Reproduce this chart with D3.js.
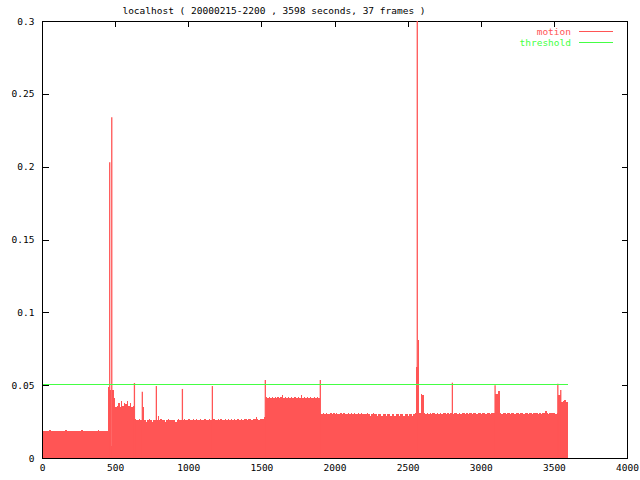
<!DOCTYPE html>
<html>
<head>
<meta charset="utf-8">
<script src="https://cdn.jsdelivr.net/npm/d3@7"></script>
<style>
  html, body { margin: 0; padding: 0; background: #fff; }
  svg { display: block; }
  text { font-family: "DejaVu Sans Mono", "Liberation Mono", monospace; font-size: 9.5px; }
</style>
</head>
<body>
<svg id="chart" width="640" height="480"></svg>
<script>
// ---- data ----
const titleText = "localhost ( 20000215-2200 , 3598 seconds, 37 frames )";
const totalSeconds = 3598;
const binSeconds = 10;
// motion level per 10-second bin, starting at t = 0
const motion = [
  0.0185,0.0188,0.0183,0.0186,0.0184,0.0189,0.0185,0.0187,0.0184,0.0186,
  0.0183,0.0185,0.0188,0.0184,0.0186,0.0185,0.0190,0.0184,0.0187,0.0185,
  0.0186,0.0184,0.0188,0.0185,0.0187,0.0183,0.0186,0.0189,0.0185,0.0186,
  0.0184,0.0187,0.0185,0.0186,0.0188,0.0184,0.0186,0.0185,0.0189,0.0186,
  0.0185,0.0187,0.0184,0.0186,0.0185,0.049,0.047,0.008,0.047,0.041,
  0.035,0.036,0.038,0.035,0.039,0.036,0.038,0.037,0.039,0.036,
  0.038,0.035,0.036,0.027,0.026,0.026,0.027,0.026,0.026,0.035,
  0.026,0.025,0.026,0.027,0.026,0.025,0.026,0.026,0.026,0.029,
  0.026,0.027,0.026,0.026,0.025,0.026,0.027,0.026,0.026,0.026,
  0.026,0.025,0.026,0.027,0.026,0.026,0.026,0.027,0.026,0.026,
  0.027,0.026,0.026,0.027,0.026,0.027,0.026,0.026,0.027,0.026,
  0.026,0.027,0.026,0.026,0.027,0.026,0.026,0.027,0.026,0.026,
  0.027,0.026,0.027,0.026,0.026,0.027,0.026,0.027,0.026,0.027,
  0.026,0.027,0.026,0.027,0.027,0.026,0.027,0.026,0.027,0.027,
  0.026,0.027,0.027,0.026,0.027,0.027,0.028,0.027,0.026,0.027,
  0.027,0.027,0.028,0.042,0.041,0.042,0.041,0.042,0.041,0.042,
  0.041,0.042,0.041,0.042,0.043,0.041,0.042,0.041,0.042,0.041,
  0.042,0.041,0.042,0.042,0.041,0.042,0.041,0.043,0.041,0.042,
  0.041,0.042,0.041,0.042,0.041,0.041,0.042,0.041,0.042,0.041,
  0.031,0.030,0.031,0.030,0.031,0.030,0.030,0.031,0.030,0.031,
  0.030,0.031,0.030,0.030,0.031,0.030,0.031,0.030,0.030,0.031,
  0.030,0.031,0.030,0.031,0.030,0.030,0.031,0.030,0.031,0.030,
  0.030,0.030,0.031,0.030,0.029,0.030,0.031,0.030,0.030,0.029,
  0.030,0.030,0.029,0.030,0.030,0.029,0.030,0.030,0.029,0.030,
  0.030,0.029,0.030,0.030,0.029,0.030,0.030,0.029,0.030,0.030,
  0.029,0.030,0.030,0.029,0.030,0.031,0.0627,0.081,0.031,0.044,
  0.043,0.031,0.030,0.031,0.030,0.031,0.030,0.031,0.031,0.030,
  0.031,0.030,0.031,0.030,0.031,0.031,0.030,0.031,0.030,0.031,
  0.031,0.030,0.031,0.031,0.030,0.031,0.030,0.031,0.031,0.030,
  0.031,0.030,0.031,0.031,0.030,0.031,0.031,0.030,0.031,0.031,
  0.030,0.031,0.031,0.030,0.031,0.031,0.030,0.031,0.031,0.031,
  0.044,0.044,0.046,0.031,0.030,0.031,0.031,0.030,0.031,0.031,
  0.030,0.031,0.031,0.030,0.031,0.031,0.030,0.031,0.031,0.030,
  0.031,0.031,0.030,0.031,0.031,0.030,0.031,0.031,0.031,0.030,
  0.031,0.030,0.031,0.031,0.032,0.031,0.030,0.031,0.031,0.031,
  0.031,0.030,0.031,0.043,0.043,0.0387,0.039,0.040,0.0387,0.0387
];
// single-second motion spikes [second, value]
const spikeSeconds = [463, 477, 632, 686, 782, 960, 1165, 1527, 1903, 2566, 2806, 3098, 3527, 3547];
const spikeValues  = [0.203, 0.234, 0.0515, 0.0455, 0.0494, 0.0474, 0.0494, 0.0535, 0.0535, 0.300, 0.0517, 0.050, 0.0509, 0.0467];
const threshold = 0.05;
const xTicks = [0, 500, 1000, 1500, 2000, 2500, 3000, 3500, 4000];
const yTicks = [0, 0.05, 0.1, 0.15, 0.2, 0.25, 0.3];
const yTickLabels = ["0", "0.05", "0.1", "0.15", "0.2", "0.25", "0.3"];
const legendLabels = ["motion", "threshold"];

// ---- chart ----
const RED = "#ff5555", GREEN = "#44ff44";
const svg = d3.select("#chart");
const x = d3.scaleLinear().domain([0, 4000]).range([42, 627]);
const y = d3.scaleLinear().domain([0, 0.3]).range([458, 21]);

// frame
svg.append("rect").attr("x", 42.5).attr("y", 21.5).attr("width", 585).attr("height", 437)
  .attr("fill", "none").attr("stroke", "#000").attr("stroke-width", 1).attr("shape-rendering", "crispEdges");

// axes with inward ticks
const fmtY = d => yTickLabels[yTicks.indexOf(d)];
const gLeft = svg.append("g").attr("transform", "translate(42.5,0)")
  .call(d3.axisLeft(y).tickValues(yTicks).tickFormat(fmtY).tickSizeInner(-6).tickSizeOuter(0).tickPadding(8));
const gRight = svg.append("g").attr("transform", "translate(627.5,0)")
  .call(d3.axisRight(y).tickValues(yTicks).tickFormat("").tickSizeInner(-6).tickSizeOuter(0));
const gBottom = svg.append("g").attr("transform", "translate(0,458.5)")
  .call(d3.axisBottom(x).tickValues(xTicks).tickFormat(d3.format("d")).tickSizeInner(-5).tickSizeOuter(0).tickPadding(6));
const gTop = svg.append("g").attr("transform", "translate(0,21.5)")
  .call(d3.axisTop(x).tickValues(xTicks).tickFormat("").tickSizeInner(-5).tickSizeOuter(0));
[gLeft, gRight, gBottom, gTop].forEach(g => {
  g.select(".domain").remove();
  g.attr("font-family", null).attr("font-size", null);
  g.selectAll("line").attr("stroke", "#000").attr("shape-rendering", "crispEdges");
  g.selectAll("text").attr("fill", "#000");
});

// motion area (step per bin)
const pts = motion.map((v, i) => [i * binSeconds, v]);
pts.push([totalSeconds, motion[motion.length - 1]]);
const area = d3.area().x(d => x(d[0])).y0(y(0)).y1(d => y(d[1])).curve(d3.curveStepAfter);
svg.append("path").datum(pts).attr("d", area).attr("fill", RED).attr("shape-rendering", "crispEdges");

// spikes as impulses
svg.append("g").selectAll("line").data(spikeSeconds.map((t, i) => [t, spikeValues[i]])).join("line")
  .attr("x1", d => x(d[0])).attr("x2", d => x(d[0]))
  .attr("y1", y(0)).attr("y2", d => y(d[1]))
  .attr("stroke", RED).attr("stroke-width", 1.3);

// threshold line (drawn as a 1px-high filled rect for a solid colour)
svg.append("rect").attr("x", x(0)).attr("width", x(totalSeconds) - x(0))
  .attr("y", Math.floor(y(threshold)) - 1).attr("height", 1.2)
  .attr("fill", GREEN).attr("shape-rendering", "crispEdges");

// left border on top of fill
svg.append("line").attr("x1", 42.5).attr("x2", 42.5).attr("y1", 21).attr("y2", 459)
  .attr("stroke", "#000").attr("stroke-width", 1).attr("shape-rendering", "crispEdges");

// title
svg.append("text").attr("x", 274).attr("y", 14).attr("text-anchor", "middle").attr("fill", "#000").text(titleText);

// legend
const legColors = [RED, GREEN];
legendLabels.forEach((lab, i) => {
  const ly = 31.5 + i * 11;
  svg.append("text").attr("x", 571).attr("y", ly + 3.5).attr("text-anchor", "end").attr("fill", legColors[i]).text(lab);
  svg.append("line").attr("x1", 579).attr("x2", 613).attr("y1", ly).attr("y2", ly)
    .attr("stroke", legColors[i]).attr("stroke-width", 1).attr("shape-rendering", "crispEdges");
});
</script>
</body>
</html>
